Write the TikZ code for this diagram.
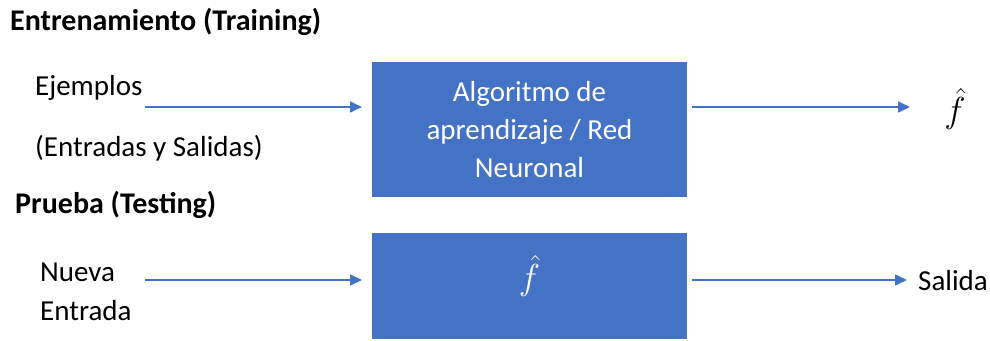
\documentclass[tikz,border=0pt]{standalone}
\usepackage{fontspec}
\setmainfont{Carlito}
\usepackage{amsmath}
\usetikzlibrary{arrows.meta}
\definecolor{boxblue}{HTML}{4472C4}
\newcommand{\fhatsym}{\scalebox{1.45}{$\hat{f}$}}
\begin{document}
\begin{tikzpicture}[x=1pt,y=-1pt,
  blockbox/.style={fill=boxblue,draw=none,text=white,align=center,font=\fontsize{29}{38}\selectfont},
  lbl/.style={font=\fontsize{29}{38}\selectfont,inner sep=0pt},
  fhat/.style={font=\fontsize{29}{34}\selectfont,inner sep=0pt},
  ttl/.style={font=\bfseries\fontsize{30}{34}\selectfont,inner sep=0pt},
  flow/.style={draw=boxblue,line width=1.6pt,-{Triangle[length=12pt,width=11pt]}}]
\useasboundingbox (0,0) rectangle (990,340);
% section titles
\node[ttl,anchor=west] (ttrain) at (10,22) {Entrenamiento (Training)};
\node[ttl,anchor=west] (ttest) at (15,205) {Prueba (Testing)};
% training row
\node[lbl,anchor=west] (ej) at (35,88) {Ejemplos};
\node[lbl,anchor=west] (es) at (35,148) {(Entradas y Salidas)};
\fill[boxblue] (372,62) rectangle (687,197);
\coordinate (alg) at (529.5,130);
\node[blockbox,inner sep=0pt] (algtxt) at (alg) {Algoritmo de\\aprendizaje / Red\\Neuronal};
\coordinate (in1) at (145,107);
\coordinate (to1) at (362,107);
\coordinate (out1s) at (692,107);
\coordinate (out1e) at (910,107);
\draw[flow] (in1) -- (to1);
\draw[flow] (out1s) -- (out1e);
\node[fhat] (fh1) at (955,109) {\fhatsym};
% testing row
\fill[boxblue] (372,233) rectangle (687,339);
\node[fhat,text=white] (fh2) at (529.5,276) {\fhatsym};
\node[lbl,anchor=west,align=left,font=\fontsize{29}{39}\selectfont] (nueva) at (40,292) {Nueva\\Entrada};
\coordinate (in2) at (145,280);
\coordinate (to2) at (362,280);
\coordinate (out2s) at (692,280);
\coordinate (out2e) at (907,280);
\draw[flow] (in2) -- (to2);
\draw[flow] (out2s) -- (out2e);
\node[lbl,anchor=west] (sal) at (918,281) {Salida};
\end{tikzpicture}
\end{document}
